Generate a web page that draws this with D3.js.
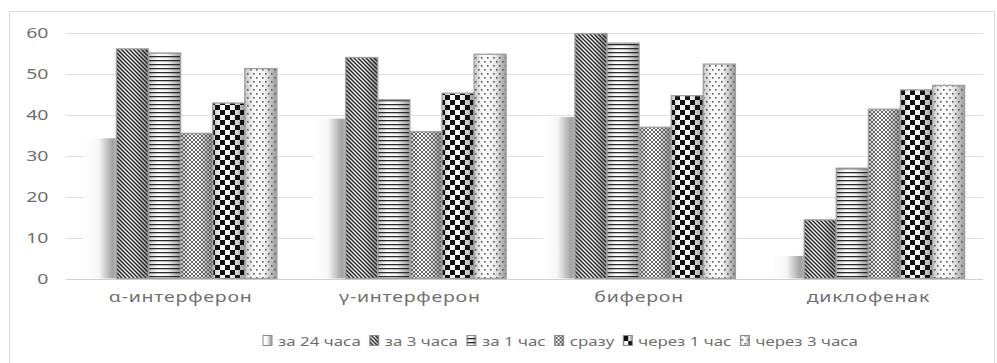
<!DOCTYPE html>
<html>
<head>
<meta charset="utf-8">
<script src="https://cdn.jsdelivr.net/npm/d3@7"></script>
<style>
  html, body { margin: 0; padding: 0; background: #fff; }
  svg { display: block; }
  text { font-family: "Noto Sans", "Open Sans", sans-serif; fill: #6f6f6f; }
</style>
</head>
<body>
<svg id="chart" width="997" height="363"></svg>
<script>
// Drug groups along the x axis
const categories = ["α-интерферон", "γ-интерферон", "биферон", "диклофенак"];

// Series (time of administration)
const seriesNames = ["за 24 часа", "за 3 часа", "за 1 час", "сразу", "через 1 час", "через 3 часа"];

// Values per series, in category order
const valsBefore24h = [34.2, 39.0, 39.4, 5.5];
const valsBefore3h  = [56.0, 53.9, 59.7, 14.3];
const valsBefore1h  = [55.0, 43.6, 57.4, 26.9];
const valsAtOnce    = [35.4, 35.8, 36.9, 41.3];
const valsAfter1h   = [42.8, 45.2, 44.6, 46.0];
const valsAfter3h   = [51.2, 54.7, 52.3, 47.1];

const seriesValues = [valsBefore24h, valsBefore3h, valsBefore1h, valsAtOnce, valsAfter1h, valsAfter3h];

// Y axis ticks
const yTicks = [0, 10, 20, 30, 40, 50, 60];

const svg = d3.select("#chart");
const plot = { left: 66, right: 983, top: 32.5, bottom: 278.5 };
const SX = 1.3; // horizontal text stretch

// Chart frame
svg.append("rect")
  .attr("x", 9.5).attr("y", 11.5)
  .attr("width", 985).attr("height", 360)
  .attr("fill", "#fff").attr("stroke", "#d9d9d9");

// ---- fills: a shaded gradient under a monochrome hatch ----
const defs = svg.append("defs");

function gradient(id, stops) {
  const g = defs.append("linearGradient").attr("id", id)
    .attr("x1", 0).attr("x2", 1).attr("y1", 0).attr("y2", 0);
  stops.forEach(([o, c]) => g.append("stop").attr("offset", o).attr("stop-color", c));
}
gradient("shadeSolid", [[0, "#ffffff"], [0.45, "#f6f6f6"], [0.88, "#a2a2a2"], [1, "#b4b4b4"]]);
gradient("shadeHatch", [[0, "#c4c4c4"], [0.3, "#ffffff"], [0.6, "#f2f2f2"], [1, "#9a9a9a"]]);

function pattern(id, w, h) {
  return defs.append("pattern").attr("id", id)
    .attr("patternUnits", "userSpaceOnUse")
    .attr("width", w).attr("height", h);
}
// diagonal stripes "\"
pattern("hatchDiag", 4, 4).append("path")
  .attr("d", "M-1,-1 L5,5 M-1,3 L1,5 M3,-1 L5,1")
  .attr("stroke", "#222").attr("stroke-width", 1.4);
// horizontal lines
pattern("hatchHoriz", 4, 4).append("rect")
  .attr("x", 0).attr("y", 0).attr("width", 4).attr("height", 1.3).attr("fill", "#2a2a2a");
// small diamond lattice
pattern("hatchDiamond", 4, 4).append("path")
  .attr("d", "M0,2 L2,0 L4,2 L2,4 Z")
  .attr("fill", "none").attr("stroke", "#555").attr("stroke-width", 0.9);
// large checkerboard
const chk = pattern("hatchChecker", 10, 10);
chk.append("rect").attr("x", 0).attr("y", 0).attr("width", 5).attr("height", 5).attr("fill", "#111");
chk.append("rect").attr("x", 5).attr("y", 5).attr("width", 5).attr("height", 5).attr("fill", "#111");
// sparse dots
const dots = pattern("hatchDots", 6, 8);
dots.append("rect").attr("x", 1).attr("y", 1).attr("width", 1.6).attr("height", 1.6).attr("fill", "#555");
dots.append("rect").attr("x", 4).attr("y", 5).attr("width", 1.6).attr("height", 1.6).attr("fill", "#555");

const seriesStyle = [
  { shade: "shadeSolid", hatch: null, stroke: "none" },
  { shade: "shadeHatch", hatch: "hatchDiag", stroke: "#a0a0a0" },
  { shade: "shadeHatch", hatch: "hatchHoriz", stroke: "#a0a0a0" },
  { shade: "shadeHatch", hatch: "hatchDiamond", stroke: "#a0a0a0" },
  { shade: "shadeHatch", hatch: "hatchChecker", stroke: "#a0a0a0" },
  { shade: "shadeHatch", hatch: "hatchDots", stroke: "#a0a0a0" }
];

// ---- scales ----
const x0 = d3.scaleBand().domain(categories)
  .range([plot.left, plot.right]).paddingInner(0.16).paddingOuter(0.08);
const x1 = d3.scaleBand().domain(d3.range(seriesNames.length))
  .range([0, x0.bandwidth()]).padding(0);
const y = d3.scaleLinear().domain([0, 60]).range([plot.bottom, plot.top]);

// Gridlines
svg.append("g").selectAll("line").data(yTicks).join("line")
  .attr("x1", plot.left).attr("x2", plot.right)
  .attr("y1", d => Math.round(y(d)) + 0.5).attr("y2", d => Math.round(y(d)) + 0.5)
  .attr("stroke", d => d === 0 ? "#d0d0d0" : "#e0e0e0").attr("stroke-width", 1.2);

// Y tick labels
svg.append("g").selectAll("text").data(yTicks).join("text")
  .attr("transform", d => `translate(48.5,${y(d)}) scale(${SX},1)`)
  .attr("text-anchor", "end").attr("dy", "0.36em")
  .attr("font-size", 15)
  .text(d => d);

// Bars
const rows = [];
seriesValues.forEach((vals, si) => vals.forEach((v, ci) => rows.push({ si, ci, v })));

const barG = svg.append("g");
const bx = d => x0(categories[d.ci]) + x1(d.si);
barG.selectAll("rect.shade").data(rows).join("rect").attr("class", "shade")
  .attr("x", bx).attr("width", x1.bandwidth())
  .attr("y", d => y(d.v)).attr("height", d => y(0) - y(d.v))
  .attr("fill", d => `url(#${seriesStyle[d.si].shade})`);
barG.selectAll("rect.hatch").data(rows.filter(d => seriesStyle[d.si].hatch)).join("rect").attr("class", "hatch")
  .attr("x", bx).attr("width", x1.bandwidth())
  .attr("y", d => y(d.v)).attr("height", d => y(0) - y(d.v))
  .attr("fill", d => `url(#${seriesStyle[d.si].hatch})`)
  .attr("stroke", d => seriesStyle[d.si].stroke).attr("stroke-width", 1.3);

// Category labels
svg.append("g").selectAll("text").data(categories).join("text")
  .attr("transform", d => `translate(${x0(d) + x0.bandwidth() / 2},302) scale(${SX},1)`)
  .attr("text-anchor", "middle").attr("font-size", 15).attr("letter-spacing", 0.6)
  .text(d => d);

// Legend
const legend = svg.append("g");
const items = legend.selectAll("g").data(seriesNames).join("g");
items.append("rect")
  .attr("x", 0).attr("y", -10.5).attr("width", 9).attr("height", 10)
  .attr("fill", (d, i) => `url(#${seriesStyle[i].shade})`);
items.append("rect")
  .attr("x", 0).attr("y", -10.5).attr("width", 9).attr("height", 10)
  .attr("fill", (d, i) => seriesStyle[i].hatch ? `url(#${seriesStyle[i].hatch})` : "none")
  .attr("stroke", "#8a8a8a").attr("stroke-width", 1);
items.append("text")
  .attr("transform", `translate(15,0) scale(${SX},1)`)
  .attr("font-size", 13).text(d => d);

let offset = 0;
const positions = [];
items.each(function () {
  const t = d3.select(this).select("text").node();
  const w = 15 + t.getComputedTextLength() * SX;
  positions.push(offset);
  offset += w + 9;
});
const legendStart = 263;
items.attr("transform", (d, i) => `translate(${legendStart + positions[i]},346)`);
</script>
</body>
</html>
